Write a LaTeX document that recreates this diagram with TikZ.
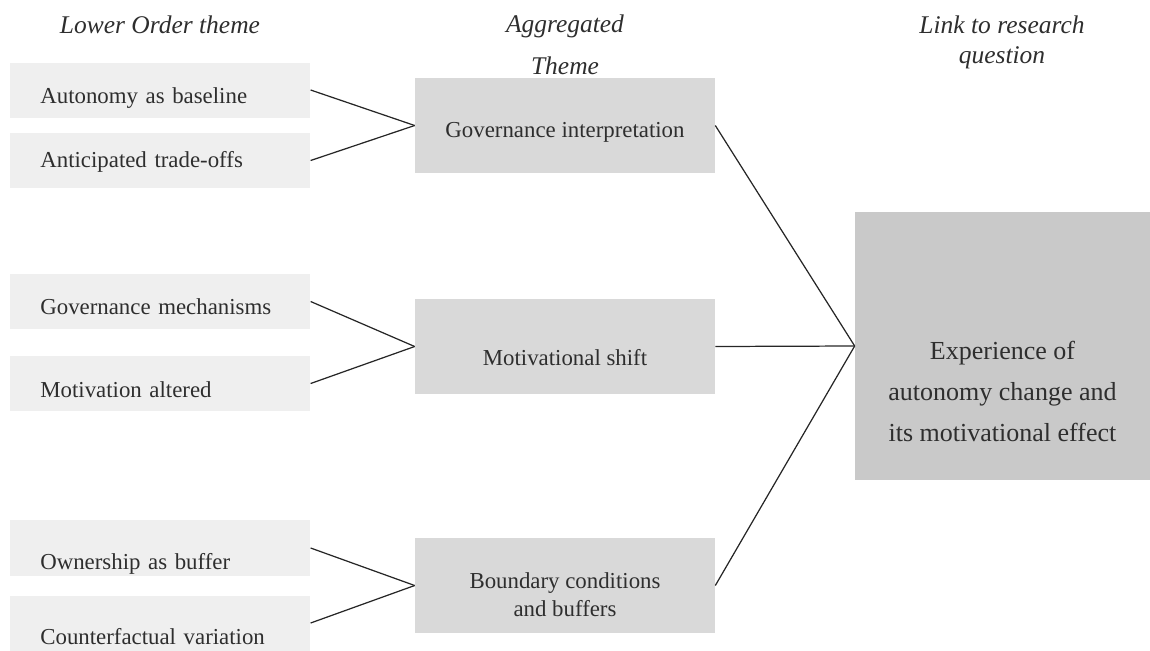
\documentclass[tikz,border=0pt]{standalone}
\usepackage{fontspec}
\setmainfont{Liberation Serif}
\usetikzlibrary{positioning}
\definecolor{lowgray}{HTML}{EFEFEF}
\definecolor{agggray}{HTML}{D9D9D9}
\definecolor{rqgray}{HTML}{C9C9C9}
\definecolor{inkgray}{HTML}{2E2E2E}

\begin{document}
\begin{tikzpicture}[x=0.02cm,y=-0.02cm,line join=round,
  font=\fontsize{13}{16.2}\selectfont,text=inkgray,
  lowbox/.style={fill=lowgray,anchor=west,minimum width=6cm,minimum height=1.1cm,
    inner xsep=0.6cm,text width=4.8cm,align=left,text height=#1,text depth=0pt},
  lowbox/.default=15pt,
  aggbox/.style={fill=agggray,minimum width=6cm,minimum height=1.9cm,align=center,
    text height=#1,text depth=0pt},
  aggbox/.default=14pt,
  rqbox/.style={fill=rqgray,minimum width=5.9cm,minimum height=5.36cm,align=center,
    font=\fontsize{14.8}{23.5}\selectfont,text height=109pt,text depth=0pt},
  head/.style={font=\fontsize{14.5}{23.8}\selectfont\itshape,align=center,anchor=base},
  link/.style={draw=black!85,line width=0.7pt}]
  \useasboundingbox (0,0) rectangle (1150,650);
  % column heads (base = last line)
  \node[head] (h1) at (160,33) {Lower Order theme};
  \node[head] (h2) at (565,74) {Aggregated\\Theme};
  \node[head,font=\fontsize{14.5}{17}\selectfont\itshape] (h3) at (1002,63) {Link to research\\question};
  % lower order themes
  \node[lowbox] (l1) at (10,90) {Autonomy as baseline};
  \node[lowbox=8pt] (l2) at (10,160.5) {Anticipated trade-offs};
  \node[lowbox] (l3) at (10,301.5) {Governance mechanisms};
  \node[lowbox=16pt] (l4) at (10,383.5) {Motivation altered};
  \node[lowbox=25pt] (l5) at (10,548) {Ownership as buffer};
  \node[lowbox=24pt] (l6) at (10,623) {Counterfactual variation};
  % aggregated themes
  \node[aggbox=13.7pt] (g1) at (565,125.5) {Governance interpretation};
  \node[aggbox=22pt] (g2) at (565,346.5) {Motivational shift};
  \node[aggbox=35.7pt] (g3) at (565,585.5) {Boundary conditions\\and buffers};
  \node[rqbox] (rq) at (1002.5,346) {Experience of\\autonomy change and\\its motivational effect};
  \foreach \a/\b in {l1/g1,l2/g1,l3/g2,l4/g2,l5/g3,l6/g3,g1/rq,g2/rq,g3/rq}
    \draw[link] (\a.east) -- (\b.west);
\end{tikzpicture}
\end{document}
